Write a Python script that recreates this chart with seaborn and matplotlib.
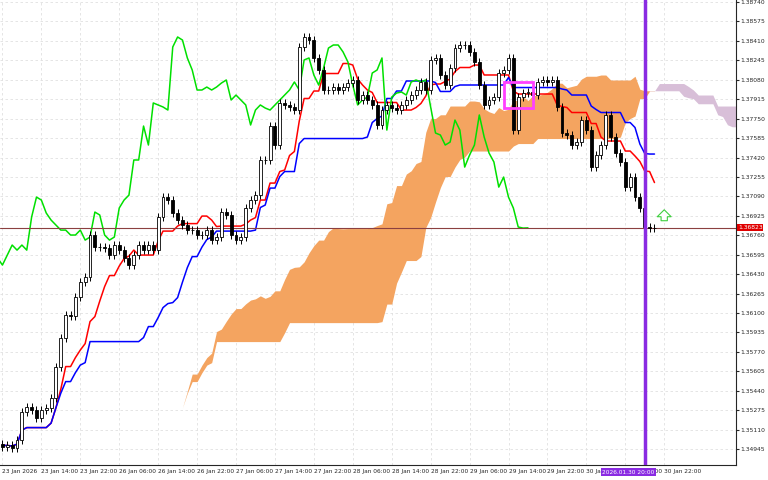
import numpy as np
import pandas as pd
import matplotlib
matplotlib.use("Agg")
import matplotlib.pyplot as plt
import seaborn as sns
from matplotlib.patches import Rectangle

# hourly closes, 23 Jan 06:00 .. 30 Jan 20:00
closes = [
    1.34962, 1.34979, 1.34953, 1.35021, 1.35259, 1.35302, 1.35276, 1.35208, 1.35276, 1.35293,
    1.35378, 1.35641, 1.35887, 1.36083, 1.36074, 1.36235, 1.36363, 1.36405, 1.36762, 1.36660,
    1.36660, 1.36651, 1.36592, 1.36677, 1.36634, 1.36567, 1.36507, 1.36592, 1.36677, 1.36634,
    1.36677, 1.36634, 1.36915, 1.37084, 1.37059, 1.36949, 1.36889, 1.36847, 1.36804, 1.36804,
    1.36762, 1.36762, 1.36804, 1.36719, 1.36745, 1.36957, 1.36932, 1.36762, 1.36719, 1.36745,
    1.36991, 1.37059, 1.37101, 1.37399, 1.37399, 1.37687, 1.37526, 1.37883, 1.37866, 1.37849,
    1.37823, 1.38358, 1.38443, 1.38417, 1.38265, 1.38163, 1.37993, 1.37993, 1.38018, 1.37993,
    1.38018, 1.38052, 1.38078, 1.37908, 1.37950, 1.37908, 1.37866, 1.37696, 1.37823, 1.37866,
    1.37840, 1.37823, 1.37866, 1.37908, 1.37950, 1.37993, 1.38061, 1.37993, 1.38248, 1.38265,
    1.38120, 1.38035, 1.38180, 1.38349, 1.38375, 1.38375, 1.38316, 1.38231, 1.38035, 1.37866,
    1.37908, 1.37933, 1.38137, 1.38163, 1.38265, 1.37653, 1.37933, 1.37967, 1.37976, 1.37950,
    1.38061, 1.38078, 1.38061, 1.38078, 1.37849, 1.37628, 1.37611, 1.37526, 1.37551, 1.37738,
    1.37653, 1.37339, 1.37441, 1.37526, 1.37781, 1.37594, 1.37458, 1.37382, 1.37169, 1.37254,
    1.37084, 1.36991, 1.36830, 1.36821, 1.36823,
]
first_open = 1.34990
wick = 0.00035

tick_labels = [
    "23 Jan 2026", "23 Jan 14:00", "23 Jan 22:00", "26 Jan 06:00", "26 Jan 14:00",
    "26 Jan 22:00", "27 Jan 06:00", "27 Jan 14:00", "27 Jan 22:00", "28 Jan 06:00",
    "28 Jan 14:00", "28 Jan 22:00", "29 Jan 06:00", "29 Jan 14:00", "29 Jan 22:00",
    "30 Jan 06:00", "30 Jan 14:00", "30 Jan 22:00",
]
price_ticks = [1.34945 + 0.00165 * k for k in range(24)]
last_price = 1.36823
cursor_bar = 132
cursor_label = "2026.01.30 20:00"

n = len(closes)
df = pd.DataFrame({"close": closes})
df["open"] = [first_open] + closes[:-1]
df["high"] = df[["open", "close"]].max(axis=1) + wick
df["low"] = df[["open", "close"]].min(axis=1) - wick
df["bar"] = np.arange(n)

# ichimoku
def mid(p):
    return (df["high"].rolling(p, min_periods=1).max() + df["low"].rolling(p, min_periods=1).min()) / 2

tenkan = mid(9)
kijun = mid(26)
span_a = ((tenkan + kijun) / 2).values
span_b = mid(52).values
cloud_x = np.arange(n) + 26

sns.set_style("white")
plt.rcParams["font.family"] = ["DejaVu Sans"]
fig = plt.figure(figsize=(7.68, 4.8), dpi=100)
ax = fig.add_axes([0.0, 0.031, 0.958, 0.969])

past = cloud_x <= n - 1
ax.fill_between(cloud_x[3:], span_a[3:], span_b[3:], where=past[3:], color="#f4a460",
                linewidth=0, interpolate=True)
fut = cloud_x >= n - 2
ax.fill_between(cloud_x, span_a, span_b, where=fut, color="#d8bfd8", linewidth=0)

sns.lineplot(x=df["bar"], y=tenkan, color="red", linewidth=1.1, ax=ax)
sns.lineplot(x=df["bar"], y=kijun, color="blue", linewidth=1.1, ax=ax)
sns.lineplot(x=df["bar"] - 26, y=df["close"], color="#00e000", linewidth=1.1, ax=ax)

up = df["close"] >= df["open"]
ax.vlines(df["bar"], df["low"], df["high"], color="black", linewidth=0.7, zorder=3)
ax.bar(df["bar"], (df["close"] - df["open"]).abs().clip(lower=0.00004),
       bottom=df[["open", "close"]].min(axis=1), width=0.6,
       color=np.where(up, "white", "black"), edgecolor="black", linewidth=0.6, zorder=4)

ax.axhline(last_price, color="#8b4040", linewidth=0.8, zorder=2)
ax.axvline(cursor_bar, color="#8a2be2", linewidth=2.5, zorder=5)
ax.add_patch(Rectangle((103, 1.3784), 6, 0.0022, fill=False, edgecolor="#ff40ff",
                       linewidth=2, zorder=6))
ax.annotate("", xy=(136, 1.3700), xytext=(136, 1.3686),
            arrowprops=dict(arrowstyle="simple,head_width=1,tail_width=0.45",
                            facecolor="white", edgecolor="#40d040", linewidth=0.8))

ax.set_xlim(-0.5, 150.7)
ax.set_ylim(1.34809, 1.38757)
ax.yaxis.tick_right()
ax.set_yticks(price_ticks)
ax.set_yticklabels([f"{p:.5f}" for p in price_ticks], fontsize=4.3)
ax.set_xticks(np.arange(len(tick_labels)) * 8)
ax.set_xticklabels(tick_labels, fontsize=4.2, ha="left")
ax.tick_params(length=2, pad=1)
ax.grid(True, linestyle=(0, (3, 3)), color="#e0e0e0", linewidth=0.6)
ax.set_axisbelow(True)
for s in ["left", "top"]:
    ax.spines[s].set_visible(False)
ax.set_xlabel("")
ax.set_ylabel("")

ax.text(1.003, (last_price - 1.34809) / (1.38757 - 1.34809), f"{last_price:.5f}",
        transform=ax.transAxes, fontsize=4.3, color="white", va="center", ha="left",
        bbox=dict(boxstyle="square,pad=0.15", facecolor="#e00000", edgecolor="none"))
ax.annotate(cursor_label, xy=(cursor_bar + 2, 0), xycoords=("data", "axes fraction"),
            xytext=(0, -3.2), textcoords="offset points", fontsize=4.2, color="white",
            ha="right", va="top", annotation_clip=False, zorder=10,
            bbox=dict(boxstyle="square,pad=0.25", facecolor="#8a2be2", edgecolor="none"))

fig.savefig("out.png", dpi=100)
